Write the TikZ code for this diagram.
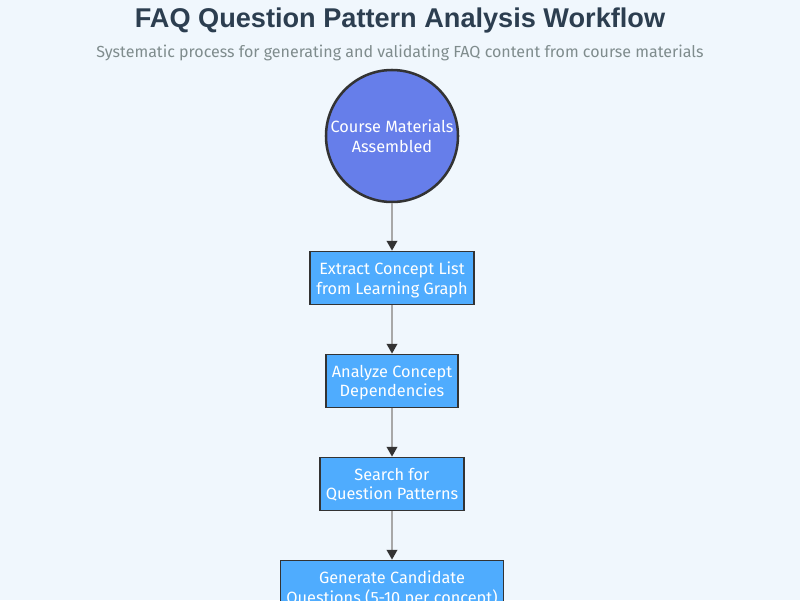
\documentclass[tikz,border=0pt]{standalone}
\usepackage{fontspec}
\setmainfont{Fira Sans}
\newfontfamily\titlefont{Liberation Sans}
\usetikzlibrary{arrows.meta}
\definecolor{pagebg}{HTML}{F0F7FD}
\definecolor{circfill}{HTML}{667EEA}
\definecolor{boxfill}{HTML}{4FACFE}
\definecolor{edgegray}{HTML}{333333}
\definecolor{linegray}{HTML}{A8A8A8}
\definecolor{titlecol}{HTML}{2C3E50}
\definecolor{subcol}{HTML}{7F8C8D}

\begin{document}
\begin{tikzpicture}[node distance=2.575cm,
		font=\fontsize{11.6}{14}\selectfont]
		\tikzstyle{startnode}=[circle,fill=circfill,draw=edgegray,line width=1.8pt,
			minimum size=3.3cm,text=white,align=center,inner sep=0pt,text depth=0pt]
		\tikzstyle{stepbox}=[rectangle,fill=boxfill,draw=edgegray,line width=1.2pt,
			minimum height=1.325cm,text=white,align=center,inner xsep=0.15cm,text depth=0pt]
		\tikzstyle{flow}=[linegray,line width=1.4pt,
			-{Triangle[width=7.5pt,length=7pt,color=edgegray]}]
		
		\useasboundingbox[fill=pagebg] (0,0) rectangle (20,-15);
		
		\node[font=\titlefont\fontsize{19.3}{22}\selectfont\bfseries,text=titlecol]
			(T) at (10,-0.5) {FAQ Question Pattern Analysis Workflow};
		\node[font=\fontsize{11.4}{14}\selectfont,text=subcol]
			(S) at (10,-1.33) {Systematic process for generating and validating FAQ content from course materials};
		
		\node[startnode] (C) at (9.8,-3.4) {Course Materials\\Assembled};
		\node[stepbox] (E) [below of=C,node distance=3.55cm] {Extract Concept List\\from Learning Graph};
		\node[stepbox] (A) [below of=E] {Analyze Concept\\Dependencies};
		\node[stepbox] (Q) [below of=A] {Search for\\Question Patterns};
		\node[stepbox] (G) [below of=Q] {Generate Candidate\\Questions (5-10 per concept)};
		
		\draw[flow] (C) -- (E);
		\draw[flow] (E) -- (A);
		\draw[flow] (A) -- (Q);
		\draw[flow] (Q) -- (G);
	\end{tikzpicture}
\end{document}
